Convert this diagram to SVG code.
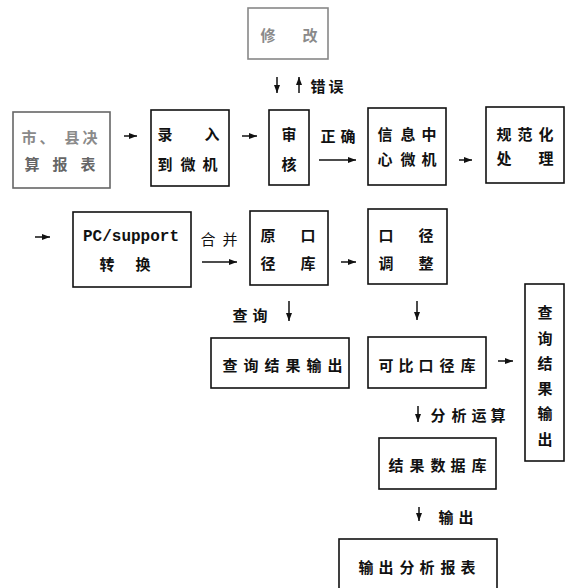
<svg xmlns="http://www.w3.org/2000/svg" width="573" height="588" viewBox="0 0 573 588">
<style>
.box{fill:#fff;stroke:#111;stroke-width:1.6}
.t{font-family:"Noto Sans CJK SC","Liberation Sans",sans-serif;font-size:15px;font-weight:bold;fill:#111;text-anchor:middle;dominant-baseline:central}
.m{font-family:"Liberation Mono","DejaVu Sans Mono",monospace;font-size:16px;font-weight:bold;fill:#111;text-anchor:middle;dominant-baseline:central}
.c{stroke:#111;stroke-width:1.5;fill:none;marker-end:url(#ah)}
.g{stroke:#888}
.gt{fill:#8a8a8a}
</style>
<defs>
<marker id="ah" markerUnits="userSpaceOnUse" markerWidth="8" markerHeight="6" refX="8" refY="3" orient="auto">
<path d="M0,0 L8,3 L0,6 z" fill="#111"/>
</marker>
</defs>
<rect width="573" height="588" fill="#fff"/>

<g id="n-xiugai">
<rect class="box g" x="248" y="8" width="80" height="51"/>
<text class="t gt" x="268 310" y="34">修改</text>
</g>

<g id="n-baobiao">
<rect class="box" style="stroke:#666" x="13" y="112" width="97" height="76"/>
<text class="t gt" x="29 47 72 90" y="136">市、县决</text>
<text class="t" style="fill:#666" x="32 60 88" y="163">算报表</text>
</g>

<g id="n-luru">
<rect class="box" x="151" y="110" width="78" height="76"/>
<text class="t" x="165 212" y="133">录入</text>
<text class="t" x="165 188 210" y="163">到微机</text>
</g>

<g id="n-shenhe">
<rect class="box" x="269" y="110" width="40" height="75"/>
<text class="t" x="289" y="133">审</text>
<text class="t" x="289" y="163">核</text>
</g>

<g id="n-xinxi">
<rect class="box" x="368" y="108" width="78" height="77"/>
<text class="t" x="385 408 429" y="133">信息中</text>
<text class="t" x="385 408 429" y="158">心微机</text>
</g>

<g id="n-guifan">
<rect class="box" x="486" y="107" width="78" height="76"/>
<text class="t" x="504 525 546" y="133">规范化</text>
<text class="t" x="504 546" y="157">处理</text>
</g>

<g id="n-pc">
<rect class="box" x="73" y="212" width="118" height="75"/>
<text class="m" x="131" y="237">PC/support</text>
<text class="t" x="107 143" y="263">转换</text>
</g>

<g id="n-yuankou">
<rect class="box" x="250" y="211" width="78" height="74"/>
<text class="t" x="268 308" y="234">原口</text>
<text class="t" x="268 308" y="262">径库</text>
</g>

<g id="n-koujing">
<rect class="box" x="368" y="209" width="79" height="75"/>
<text class="t" x="386 426" y="234">口径</text>
<text class="t" x="386 426" y="262">调整</text>
</g>

<g id="n-chaxun1">
<rect class="box" x="211" y="338" width="138" height="50"/>
<text class="t" x="230 251 272 293 314 335" y="364">查询结果输出</text>
</g>

<g id="n-kebi">
<rect class="box" x="368" y="337" width="118" height="51"/>
<text class="t" x="386 406 426 447 468" y="364">可比口径库</text>
</g>

<g id="n-chaxun2">
<rect class="box" x="525" y="284" width="39" height="177"/>
<text class="t" x="545" y="311">查</text>
<text class="t" x="545" y="337">询</text>
<text class="t" x="545" y="362">结</text>
<text class="t" x="545" y="387">果</text>
<text class="t" x="545" y="412">输</text>
<text class="t" x="545" y="438">出</text>
</g>

<g id="n-jieguo">
<rect class="box" x="379" y="438" width="117" height="51"/>
<text class="t" x="396 417 438 458 479" y="464">结果数据库</text>
</g>

<g id="n-shuchu">
<rect class="box" x="339" y="539" width="158" height="60"/>
<text class="t" x="366 386 407 427 448 468" y="566">输出分析报表</text>
</g>

<g id="connectors">
<line class="c" x1="277" y1="77" x2="277" y2="93"/>
<line class="c" x1="299" y1="93" x2="299" y2="77"/>
<line class="c" x1="124" y1="136" x2="137" y2="136"/>
<line class="c" x1="242" y1="136" x2="257" y2="136"/>
<line class="c" x1="319" y1="160" x2="356" y2="160"/>
<line class="c" x1="459" y1="160" x2="472" y2="160"/>
<line class="c" x1="35" y1="237" x2="50" y2="237"/>
<line class="c" x1="202" y1="262" x2="237" y2="262"/>
<line class="c" x1="341" y1="262" x2="356" y2="262"/>
<line class="c" x1="289" y1="301" x2="289" y2="321"/>
<line class="c" x1="417" y1="301" x2="417" y2="320"/>
<line class="c" x1="498" y1="361" x2="513" y2="361"/>
<line class="c" x1="418" y1="406" x2="418" y2="422"/>
<line class="c" x1="419" y1="507" x2="419" y2="521"/>
<text class="t" x="318 336" y="85">错误</text>
<text class="t" x="328 348" y="135">正确</text>
<text class="t" style="font-weight:normal" x="208 230" y="238">合并</text>
<text class="t" x="240 260" y="314">查询</text>
<text class="t" x="438 459 479 498" y="414">分析运算</text>
<text class="t" x="446 466" y="516">输出</text>
</g>
</svg>
